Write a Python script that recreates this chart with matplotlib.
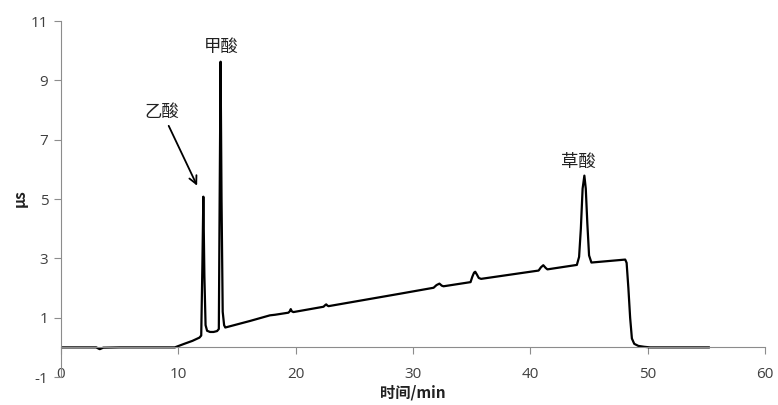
import matplotlib
matplotlib.use("Agg")
import matplotlib.pyplot as plt

plt.rcParams["axes.unicode_minus"] = False

# trace (time in min, signal in us)
time_min = [0.0, 3.0, 3.3, 3.6, 5.0, 9.7, 10.5, 11.2, 11.8, 11.95, 12.05, 12.13,
            12.22, 12.32, 12.45, 12.7, 13.0, 13.3, 13.45, 13.52, 13.6, 13.68, 13.78,
            13.9, 14.0, 16.1, 17.8, 18.24, 19.38, 19.5, 19.58, 19.66, 19.8, 22.37,
            22.5, 22.6, 22.7, 22.8, 28.9, 31.75, 32.0, 32.25, 32.45, 32.6, 34.9,
            35.05, 35.2, 35.3, 35.45, 35.6, 35.8, 40.7, 40.9, 41.1, 41.3, 41.45,
            43.96, 44.15, 44.3, 44.45, 44.6, 44.72, 44.85, 45.0, 45.2, 48.08, 48.2,
            48.35, 48.5, 48.65, 48.85, 49.2, 49.7, 50.2, 52.0, 55.2]
signal_us = [0.0, 0.0, -0.06, -0.01, 0.0, 0.0, 0.12, 0.22, 0.33, 0.4, 2.8, 5.08,
             2.4, 0.75, 0.56, 0.52, 0.52, 0.55, 0.62, 5.0, 9.63, 5.0, 1.2, 0.75,
             0.67, 0.89, 1.08, 1.1, 1.17, 1.22, 1.29, 1.22, 1.19, 1.37, 1.42, 1.45,
             1.41, 1.39, 1.81, 2.01, 2.1, 2.15, 2.08, 2.06, 2.2, 2.38, 2.52, 2.55,
             2.45, 2.34, 2.31, 2.59, 2.7, 2.77, 2.68, 2.63, 2.78, 3.05, 4.0, 5.35,
             5.79, 5.35, 4.2, 3.1, 2.86, 2.96, 2.85, 2.0, 1.0, 0.3, 0.12, 0.05, 0.02,
             0.0, 0.0, 0.0]

peak_names = ["乙酸", "甲酸", "草酸"]
label_x = [8.6, 13.65, 44.1]
label_y = [7.95, 10.13, 6.26]
arrow_tip = (11.6, 5.45)

x_ticks = [0, 10, 20, 30, 40, 50, 60]
y_ticks = [-1, 1, 3, 5, 7, 9, 11]

cjk = ["Noto Sans CJK SC", "DejaVu Sans"]
axis_gray = "#8c8c8c"
text_gray = "#404040"

fig = plt.figure(figsize=(7.78, 4.05), dpi=100)
ax = fig.add_axes([0.0784, 0.069, 0.905, 0.879])

ax.plot(time_min, signal_us, color="black", lw=1.6, solid_joinstyle="round")

ax.set_xlim(0, 60)
ax.set_ylim(-1, 11)
ax.set_xticks(x_ticks)
ax.set_yticks(y_ticks)

for s in ["top", "right"]:
    ax.spines[s].set_visible(False)
ax.spines["bottom"].set_position(("data", 0))
ax.spines["bottom"].set_color(axis_gray)
ax.spines["left"].set_color(axis_gray)
ax.tick_params(axis="x", direction="out", length=5, color=axis_gray, pad=9,
               labelsize=11, labelcolor=text_gray)
ax.tick_params(axis="y", direction="out", length=5, color=axis_gray, pad=4,
               labelsize=11, labelcolor=text_gray)
for lab in ax.get_xticklabels() + ax.get_yticklabels():
    lab.set_family("Open Sans")

# peak names
ax.annotate(peak_names[0], xy=arrow_tip, xytext=(label_x[0], label_y[0]),
            ha="center", va="center", fontsize=12.5, family=cjk, color="#222222",
            arrowprops=dict(arrowstyle="->", color="black", lw=1.3,
                            shrinkA=2, shrinkB=0, mutation_scale=14))
for name, tx, ty in zip(peak_names[1:], label_x[1:], label_y[1:]):
    ax.text(tx, ty, name, ha="center", va="center", fontsize=12.5, family=cjk,
            color="#222222")

fig.text(0.53, 0.032, "时间/min", ha="center", va="center", fontsize=11,
         fontweight="bold", family=cjk, color="#222222")
fig.text(0.026, 0.51, "μs", ha="center", va="center", rotation=90,
         fontsize=11, fontweight="bold", family=cjk, color="#222222")

fig.savefig("out.png", dpi=100)
